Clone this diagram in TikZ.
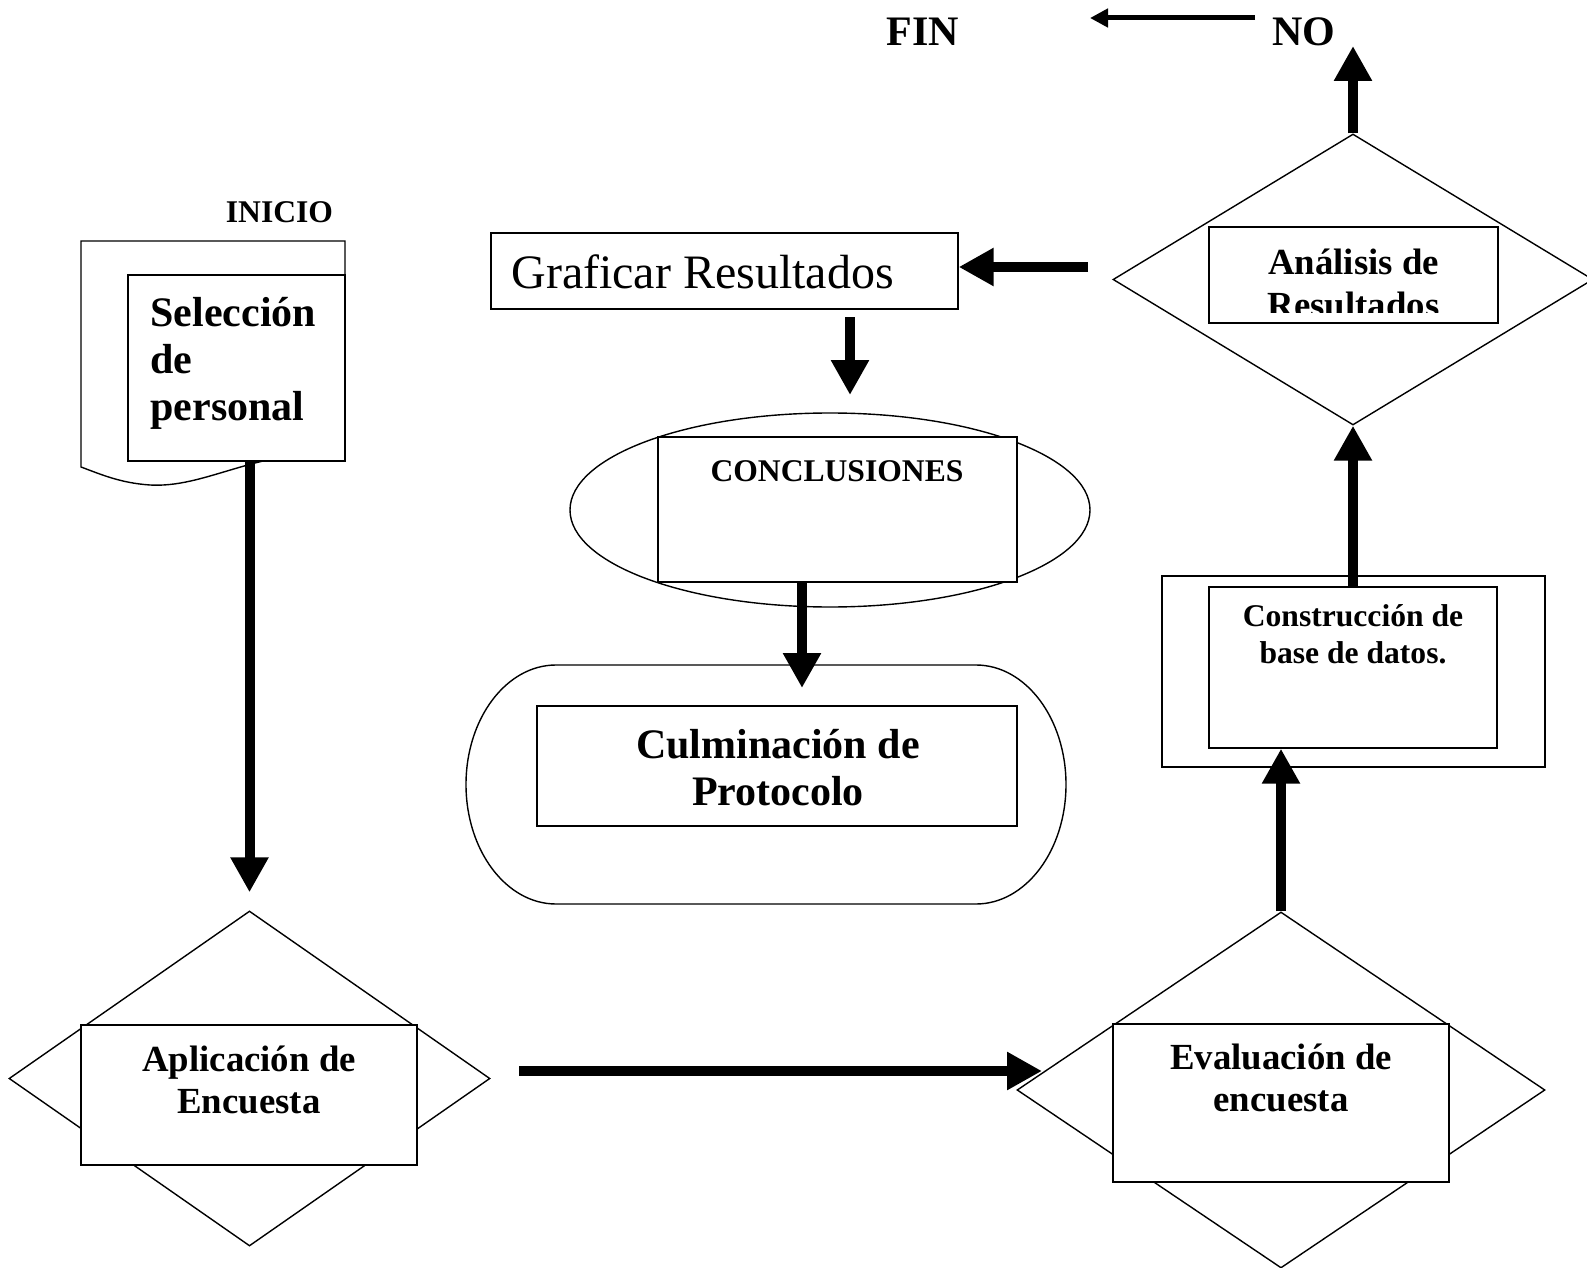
\documentclass[tikz,border=0pt]{standalone}
\usepackage{fontspec}
\setmainfont{Liberation Serif}
\usetikzlibrary{arrows.meta,shapes.geometric}
\tikzset{
  flow line/.style={line width=0.7pt,draw=black},
  flow box/.style={flow line,fill=white,inner sep=0pt},
  flow diamond/.style={diamond,flow line,fill=white,inner sep=0pt},
  flow ellipse/.style={ellipse,flow line,fill=white,inner sep=0pt},
  flow arrow/.style={line width=5pt,-{Triangle[width=18pt,length=17.5pt]}},
  flow thin arrow/.style={line width=2.5pt,-{Triangle[width=9pt,length=9pt]}},
  big label/.style={font=\bfseries\fontsize{21}{23.5}\selectfont,inner sep=0pt},
  mid label/.style={font=\bfseries\fontsize{18.4}{21}\selectfont,align=center,inner sep=0pt},
  small label/.style={font=\bfseries\fontsize{15.8}{18.5}\selectfont,align=center,inner sep=0pt},
  end label/.style={font=\bfseries\fontsize{21}{24}\selectfont,inner sep=0pt}
}

\begin{document}
\begin{tikzpicture}[x=0.5pt,y=-0.5pt]
    \useasboundingbox (0,0) rectangle (1587,1268);
    % top: exit
    \node[end label,anchor=base] (fin) at (923,46) {FIN};
    \node[end label,anchor=base] (no) at (1304,46) {NO};
    % start
    \node[small label,anchor=base] (inicio) at (279.5,223) {INICIO};
    \draw[flow line,fill=white] (81,241) -- (345,241) -- (345,450)
      .. controls (250,452) and (205,488) .. (150,485)
      .. controls (120,483) and (100,474) .. (81,467) -- cycle;
    \node[flow box,minimum width=108.5pt,minimum height=93pt] (selbox) at (236.5,368) {};
    \node[big label,anchor=base west,align=left] (seltext) at (150,420) {Selección\\de\\personal};
    % survey
    \node[flow diamond,minimum width=240.5pt,minimum height=167.5pt] (aplic) at (249.5,1078.5) {};
    \node[flow box,minimum width=168pt,minimum height=70pt] (aplicbox) at (249,1095) {};
    \node[mid label,anchor=base] (aplictext) at (249,1113) {Aplicación de\\Encuesta};
    \node[flow diamond,minimum width=264pt,minimum height=178pt] (eval) at (1281,1090) {};
    \node[flow box,minimum width=168pt,minimum height=79pt] (evalbox) at (1281,1103) {};
    \node[mid label,anchor=base] (evaltext) at (1281,1111) {Evaluación de\\encuesta};
    % data base
    \node[flow box,minimum width=191.5pt,minimum height=95.5pt] (cframe) at (1353.5,671.5) {};
    \node[flow box,minimum width=144pt,minimum height=80.5pt] (cbox) at (1353,667.5) {};
    \node[small label,anchor=base] (ctext) at (1353,663) {Construcción de\\base de datos.};
    % analysis
    \node[flow diamond,minimum width=240pt,minimum height=145.5pt] (anal) at (1353,279.5) {};
    \node[flow box,minimum width=144.5pt,minimum height=48pt] (analbox) at (1353.5,275) {};
    \begin{scope}
      \clip (1209,227) rectangle (1498,312);
      \node[mid label,anchor=base] (analtext) at (1353.5,317) {Análisis de\\Resultados};
    \end{scope}
    % results
    \node[flow box,minimum width=233.5pt,minimum height=38pt] (graf) at (724.5,271) {};
    \node[font=\fontsize{24}{27}\selectfont,inner sep=0pt,anchor=base west] (graftext) at (511,288) {Graficar Resultados};
    \node[flow ellipse,minimum width=260pt,minimum height=97pt] (concl) at (830,510) {};
    \node[flow box,minimum width=179.5pt,minimum height=72.5pt] (conclbox) at (837.5,509.5) {};
    \node[small label,anchor=base] (concltext) at (837,481) {CONCLUSIONES};
    \draw[flow line,fill=white] (556,665) -- (976,665)
      arc[start angle=-90,end angle=90,x radius=90,y radius=119.5] -- (556,904)
      arc[start angle=90,end angle=270,x radius=90,y radius=119.5] -- cycle;
    \node[flow box,minimum width=240pt,minimum height=60pt] (culmbox) at (777,766) {};
    \node[big label,align=center,anchor=base] (culmtext) at (778,805) {Culminación de\\Protocolo};
    % connectors
    \coordinate (encstart) at (519,1071);
    \coordinate (encend) at (1042,1071);
    \coordinate (notip) at (1353,46);
    \coordinate (finstart) at (1255,18);
    \coordinate (finend) at (1090,18);
    \coordinate (grafstart) at (1088,267);
    \coordinate (conclstart) at (850,317);
    \coordinate (conclend) at (850,395);
    \coordinate (culmtip) at (802,688);
    \draw[flow arrow,shorten >=9pt] (selbox.south -| aplic.north) -- (aplic.north);
    \draw[flow arrow] (encstart) -- (encend);
    \draw[flow arrow] (eval.north) -- (eval.north |- cbox.south);
    \draw[flow arrow] (cbox.north) -- (anal.south);
    \draw[flow arrow] (anal.north) -- (notip);
    \draw[flow thin arrow] (finstart) -- (finend);
    \draw[flow arrow] (grafstart) -- (grafstart -| graf.east);
    \draw[flow arrow] (conclstart) -- (conclend);
    \draw[flow arrow] (culmtip |- conclbox.south) -- (culmtip);
  \end{tikzpicture}
\end{document}
